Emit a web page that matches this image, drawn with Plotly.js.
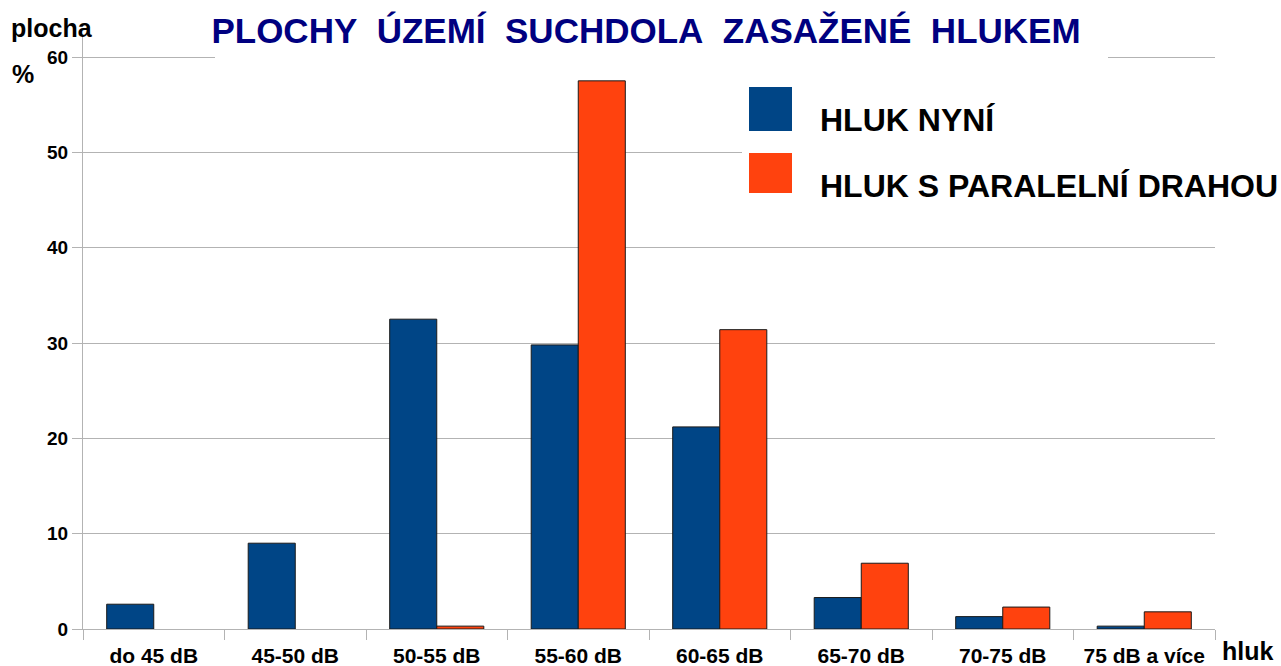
<!DOCTYPE html>
<html>
<head>
<meta charset="utf-8">
<script src="https://cdn.plot.ly/plotly-3.0.1.min.js"></script>
<style>html,body{margin:0;padding:0;background:#fff;}#chart{width:1281px;height:666px;}</style>
</head>
<body>
<div id="chart"></div>
<script>
// ---- data ----
const categories = ["do 45 dB", "45-50 dB", "50-55 dB", "55-60 dB", "60-65 dB", "65-70 dB", "70-75 dB", "75 dB a více"];
const hlukNyni = [2.6, 9.0, 32.5, 29.8, 21.2, 3.3, 1.3, 0.3];
const hlukParalelni = [null, null, 0.3, 57.5, 31.4, 6.9, 2.3, 1.8];
const seriesNames = ["HLUK NYNÍ", "HLUK S PARALELNÍ DRAHOU"];
const seriesColors = ["#004586", "#ff420e"];
const chartTitle = "PLOCHY\u00a0\u00a0ÚZEMÍ\u00a0\u00a0SUCHDOLA\u00a0\u00a0ZASAŽENÉ\u00a0\u00a0HLUKEM";
const yLabelLines = ["plocha", "%"];
const xLabel = "hluk";

const FONT = "Liberation Sans, Arial, sans-serif";
const GRID = "#b3b3b3";

const traces = [
  {type: "bar", name: seriesNames[0], x: categories, y: hlukNyni,
   marker: {color: seriesColors[0], line: {color: "#1a1a1a", width: 1}}, showlegend: false},
  {type: "bar", name: seriesNames[1], x: categories, y: hlukParalelni,
   marker: {color: seriesColors[1], line: {color: "#1a1a1a", width: 1}}, showlegend: false}
];

// pixel -> paper helpers (plot area: x 83..1215, y 37..629.3)
const L = 83, R = 1215, T = 37, B = 629.3;
const px = v => (v - L) / (R - L);
const py = v => (B - v) / (B - T);

const layout = {
  width: 1281, height: 666,
  margin: {l: L, r: 1281 - R, t: T, b: 666 - B},
  paper_bgcolor: "#fff", plot_bgcolor: "#fff",
  font: {family: FONT, color: "#000"},
  barmode: "group", bargap: 0.335, bargroupgap: 0,
  title: {text: chartTitle, font: {family: FONT, size: 35, color: "#000080", weight: "bold"},
          x: 646 / 1281, xanchor: "center", xref: "container", y: 1 - 31 / 666, yanchor: "middle", yref: "container"},
  xaxis: {type: "category", showgrid: false, showline: true, linecolor: GRID, linewidth: 1,
          ticks: "outside", tickson: "boundaries", ticklen: 10, tickcolor: GRID, tickwidth: 1,
          ticklabelstandoff: 8,
          tickfont: {family: FONT, size: 21, color: "#000", weight: "bold"}, zeroline: false, fixedrange: true},
  yaxis: {range: [0, 62.1], dtick: 10, tick0: 0, showgrid: true, gridcolor: GRID, gridwidth: 1,
          showline: true, linecolor: GRID, linewidth: 1, ticks: "outside", ticklen: 10, tickcolor: GRID,
          tickfont: {family: FONT, size: 19, color: "#000", weight: "bold"}, zeroline: false, fixedrange: true},
  shapes: [
    // white box behind title (hides top grid line)
    {type: "rect", xref: "paper", yref: "paper", x0: px(215), x1: px(1108), y0: py(64), y1: 1.0,
     fillcolor: "#fff", line: {width: 0}, layer: "above"},
    // white legend background
    {type: "rect", xref: "paper", yref: "paper", x0: px(742), x1: 1.0, y0: py(203), y1: py(78),
     fillcolor: "#fff", line: {width: 0}, layer: "above"},
    // legend swatches
    {type: "rect", xref: "paper", yref: "paper", x0: px(749), x1: px(792), y0: py(131), y1: py(87),
     fillcolor: seriesColors[0], line: {width: 0}, layer: "above"},
    {type: "rect", xref: "paper", yref: "paper", x0: px(749), x1: px(792), y0: py(193), y1: py(153),
     fillcolor: seriesColors[1], line: {width: 0}, layer: "above"}
  ],
  annotations: [
    {text: seriesNames[0], xref: "paper", yref: "paper", x: px(818), y: py(120), xanchor: "left", yanchor: "middle",
     showarrow: false, font: {family: FONT, size: 32, color: "#000", weight: "bold"}},
    {text: seriesNames[1], xref: "paper", yref: "paper", x: px(818), y: py(186), xanchor: "left", yanchor: "middle",
     showarrow: false, font: {family: FONT, size: 32, color: "#000", weight: "bold"}},
    {text: yLabelLines[0], xref: "paper", yref: "paper", x: px(9), y: py(28), xanchor: "left", yanchor: "middle",
     showarrow: false, font: {family: FONT, size: 25, color: "#000", weight: "bold"}},
    {text: yLabelLines[1], xref: "paper", yref: "paper", x: px(10), y: py(74), xanchor: "left", yanchor: "middle",
     showarrow: false, font: {family: FONT, size: 25, color: "#000", weight: "bold"}},
    {text: xLabel, xref: "paper", yref: "paper", x: px(1220), y: py(651), xanchor: "left", yanchor: "middle",
     showarrow: false, font: {family: FONT, size: 25, color: "#000", weight: "bold"}}
  ]
};

Plotly.newPlot("chart", traces, layout, {displayModeBar: false, staticPlot: true});
</script>
</body>
</html>
